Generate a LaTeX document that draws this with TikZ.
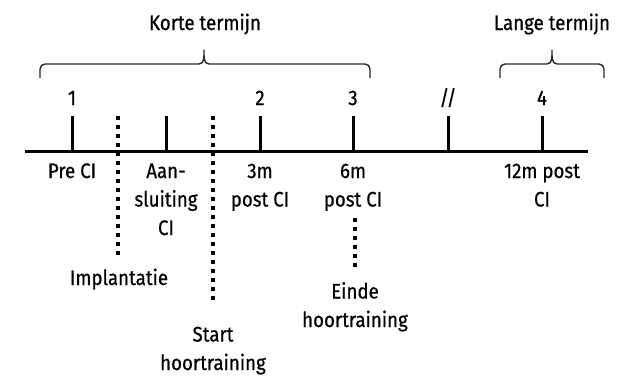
\documentclass[tikz,border=0pt]{standalone}
\usepackage{fontspec}
\setmainfont[FakeStretch=0.89,FakeBold=0.6]{Fira Sans}
\begin{document}
\begin{tikzpicture}[x=1pt,y=-1pt,
  axisline/.style={line width=3pt},
  tickline/.style={line width=3pt},
  eventline/.style={line width=3.6pt, dash pattern=on 3.6pt off 5.4pt},
  bracket/.style={line width=1.4pt, line join=round, color=black!85},
  lbl/.style={inner sep=0pt, align=center, anchor=base,
    font=\fontsize{21pt}{28.5pt}\selectfont}]
\useasboundingbox (0,0) rectangle (632,375);

% time axis
\coordinate (axL) at (25,151);
\coordinate (axR) at (588,151);
\draw[axisline] (axL) -- (axR);

% measurement ticks
\foreach \n/\x in {t1/72, t2/166, t3/260, t4/353, t5/448, t6/542}{
  \coordinate (\n top) at (\x,116);
  \coordinate (\n bot) at (\x,151);
  \draw[tickline] (\n top) -- (\n bot);
}

% tick numbers
\node[lbl] (n1) at (72,105) {1};
\node[lbl] (n2) at (260,105) {2};
\node[lbl] (n3) at (353,105) {3};
\node[lbl] (nbr) at (448,105) {/\kern-2.5pt/};
\node[lbl] (n4) at (542,105) {4};

% dotted event markers
\coordinate (e1a) at (118,116);
\coordinate (e1b) at (118,256);
\coordinate (e2a) at (213,116);
\coordinate (e2b) at (213,302);
\coordinate (e3a) at (355,218);
\coordinate (e3b) at (355,268);
\draw[eventline] (e1a) -- (e1b);
\draw[eventline] (e2a) -- (e2b);
\draw[eventline] (e3a) -- (e3b);

% braces
\coordinate (kL) at (40,78);
\coordinate (kP) at (204,50);
\coordinate (kR) at (370,78);
\draw[bracket] (kL) -- ++(0,-9) to[out=90,in=180] ++(5,-5) -- ([xshift=-5pt]kP |- 0,64)
  to[out=0,in=270] (kP) to[out=270,in=180] ([xshift=5pt]kP |- 0,64)
  -- ([xshift=-5pt]kR |- 0,64) to[out=0,in=90] ++(5,5) -- (kR);
\coordinate (lL) at (500,78);
\coordinate (lP) at (552,50);
\coordinate (lR) at (604,78);
\draw[bracket] (lL) -- ++(0,-9) to[out=90,in=180] ++(5,-5) -- ([xshift=-5pt]lP |- 0,64)
  to[out=0,in=270] (lP) to[out=270,in=180] ([xshift=5pt]lP |- 0,64)
  -- ([xshift=-5pt]lR |- 0,64) to[out=0,in=90] ++(5,5) -- (lR);

\node[lbl] (kort) at (205,30) {Korte termijn};
\node[lbl] (lang) at (552,30) {Lange termijn};

% labels under the axis (anchored at the baseline of the last line)
\node[lbl] (pre) at (72,178) {Pre CI};
\node[lbl] (aan) at (166,235) {Aan-\\sluiting\\CI};
\node[lbl] (m3) at (260,206.5) {3m\\post CI};
\node[lbl] (m6) at (353,206.5) {6m\\post CI};
\node[lbl] (m12) at (542,206.5) {12m post\\CI};
\node[lbl] (impl) at (119,285) {Implantatie};
\node[lbl] (start) at (213,370) {Start\\hoortraining};
\node[lbl] (einde) at (355,327) {Einde\\hoortraining};
\end{tikzpicture}
\end{document}
